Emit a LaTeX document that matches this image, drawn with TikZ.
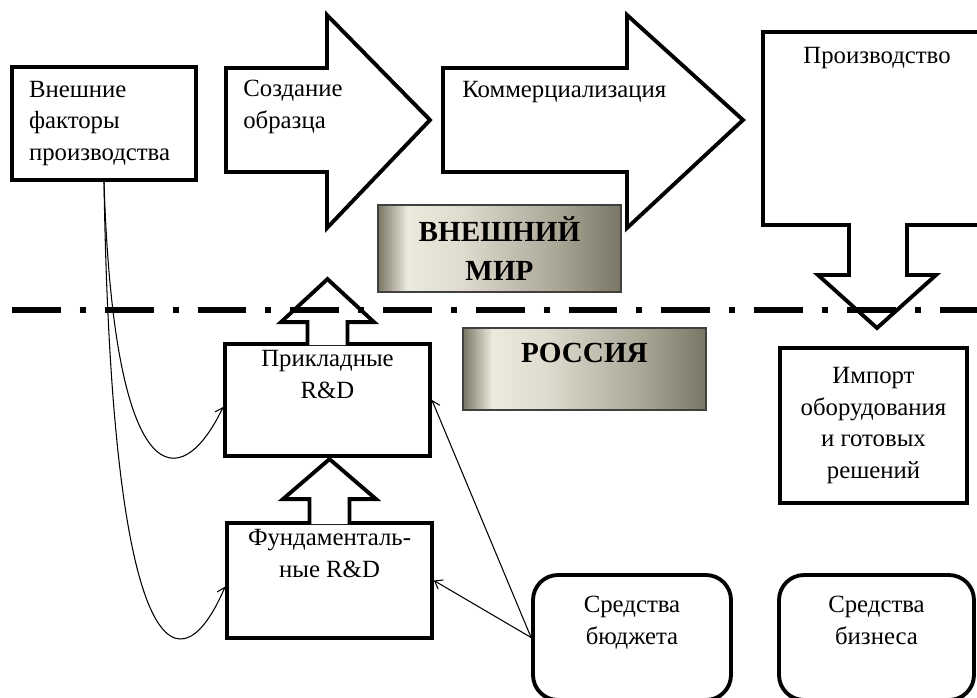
\documentclass[tikz,border=0pt]{standalone}
\usepackage{fontspec}
\setmainfont{Liberation Serif}
\usetikzlibrary{arrows.meta,calc,positioning}
\definecolor{bevdark}{RGB}{122,118,101}
\definecolor{bevmid}{RGB}{170,166,150}
\definecolor{bevlight}{RGB}{236,233,221}
\pgfdeclarehorizontalshading{bevel}{100bp}{color(0bp)=(bevdark); color(25bp)=(bevdark); color(31bp)=(bevlight); color(42bp)=(bevlight!80!bevmid); color(62bp)=(bevmid); color(75bp)=(bevdark); color(100bp)=(bevdark)}
\tikzset{
	txt/.style={font=\fontsize{14.1}{18.1}\selectfont, inner sep=0pt, align=center},
	box/.style={draw, line width=2.2pt, fill=white},
	bevelbox/.style={draw=black!75, line width=0.7pt, shade, shading=bevel, align=center,
			font=\bfseries\fontsize{16.6}{22}\selectfont},
	link/.style={line width=0.6pt, -{Straight Barb[length=4pt,width=6pt]}},
	blockarrow/.style={line width=2.2pt, fill=white, line join=miter},
	border/.style={line width=3.4pt, dash pattern=on 27.8pt off 10.8pt on 3.4pt off 10.8pt}
}
\begin{document}
\begin{tikzpicture}[x=0.02cm, y=-0.02cm]
		\path[use as bounding box] (0,0) rectangle (977,697);
		\clip (0,0) rectangle (977,697);
		% top row
		\node[box, txt, align=left, text width=3cm, minimum width=3.68cm, minimum height=2.26cm] (ext) at (104,123.5) {Внешние\\факторы\\производства};
		\draw[blockarrow] (226,68) -- (327,68) -- (327,15) -- (430,120) -- (327,228) -- (327,172) -- (226,172) -- cycle;
		\node[txt, align=left, anchor=north west] (create) at (243,80) {Создание\\образца};
		\draw[blockarrow] (443,68) -- (627,68) -- (627,15) -- (743,120) -- (627,228) -- (627,172) -- (443,172) -- cycle;
		\node[txt, anchor=north west] (commerce) at (462,81) {Коммерциализация};
		\draw[blockarrow] (763,32) -- (990,32) -- (990,225) -- (907,225) -- (907,275) -- (936,275) -- (877,328) -- (818,275) -- (849,275) -- (849,225) -- (763,225) -- cycle;
		\node[txt, anchor=north] (production) at (877,47) {Производство};
		% world / russia
		\node[bevelbox, minimum width=4.86cm, minimum height=1.74cm] (world) at (499.5,248.5) {ВНЕШНИЙ\\МИР};
		\node[bevelbox, minimum width=4.86cm, minimum height=1.64cm] (russia) at (584.5,369) {};
		\node[txt, font=\bfseries\fontsize{16.6}{22}\selectfont, anchor=north] (russiatxt) at ($(russia.north)+(0,15)$) {РОССИЯ};
		% R&D
		\node[box, minimum width=4.1cm, minimum height=2.24cm] (applied) at (327.5,400) {};
		\node[txt, anchor=north] (appliedtxt) at ($(applied.north)+(0,8)$) {Прикладные\\R\&D};
		\node[box, minimum width=4.1cm, minimum height=2.3cm] (fund) at (329.5,580.5) {};
		\node[txt, anchor=north] (fundtxt) at ($(fund.north)+(0,8)$) {Фундаменталь-\\ные R\&D};
		\draw[blockarrow] ($(applied.north)+(-20,3)$) -- ++(0,-23) -- ++(-26.5,0) -- ++(46.5,-43) -- ++(46.5,43) -- ++(-26.5,0) -- ++(0,23);
		\draw[blockarrow] ($(fund.north)+(-20,3)$) -- ++(0,-25) -- ++(-26.5,0) -- ++(46.5,-40) -- ++(46.5,40) -- ++(-26.5,0) -- ++(0,25);
		% right column and funding
		\node[box, txt, minimum width=3.74cm, minimum height=3.1cm] (import) at (873.5,425.5) {Импорт\\оборудования\\и готовых\\решений};
		\node[box, rounded corners=0.5cm, minimum width=3.96cm, minimum height=2.5cm] (budget) at (632,637.5) {};
		\node[txt, anchor=north] (budgettxt) at ($(budget.north)+(0,23)$) {Средства\\бюджета};
		\node[box, rounded corners=0.5cm, minimum width=3.9cm, minimum height=2.5cm] (business) at (876.5,637.5) {};
		\node[txt, anchor=north] (businesstxt) at ($(business.north)+(0,23)$) {Средства\\бизнеса};
		% border line
		\draw[border] (12,310) -- (990,310);
		% links
		\draw[link] (ext.south) .. controls +(10,315) and +(-42,88) .. ([yshift=-4pt]applied.west);
		\draw[link] (ext.south) .. controls +(8,506) and +(-42,99) .. ([yshift=-3.5pt]fund.west);
		\draw[link] (budget.west) -- (applied.east);
		\draw[link] (budget.west) -- (fund.east);
	\end{tikzpicture}
\end{document}
